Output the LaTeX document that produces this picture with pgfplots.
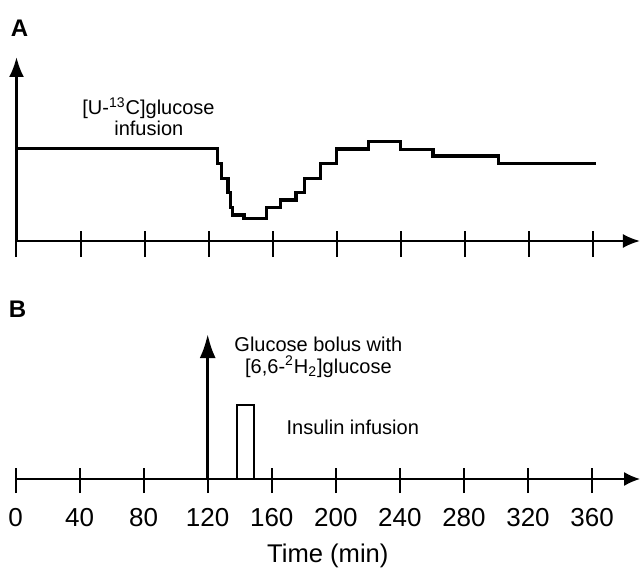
\documentclass[border=0pt]{standalone}
\usepackage{fontspec}
\setmainfont{Liberation Sans}
\usepackage{pgfplots}
\pgfplotsset{compat=1.18}
\usetikzlibrary{arrows.meta}

\begin{document}
\begin{tikzpicture}
\path[use as bounding box] (0,0) rectangle (320pt,-285.5pt);

% Panel A
\begin{axis}[
  at={(8.25pt,-120.5pt)}, anchor=south west,
  scale only axis, width=311.7pt, height=92pt,
  xmin=0, xmax=389.3, ymin=0, ymax=184,
  axis lines=left,
  x axis line style={line width=1pt, -{Latex[length=8.5pt,width=7pt]}},
  y axis line style={line width=1.4pt, -{Latex[length=10pt,width=7.5pt]}},
  xtick={0,40,...,360}, xticklabels={},
  ytick=\empty,
  xtick align=center, major tick length=13pt,
  tick style={black, line width=1pt},
  xtick style={yshift=-1.5pt},
  clip=false,
]
\addplot[const plot, line width=1.65pt, black] coordinates {
 (0,92.5) (125.5,77.7) (128,62.7) (132,48.7) (133.5,33.3) (135,26)
 (142,22.7) (156,33.7) (165,41) (174.5,48.7) (180,62.7) (190,77.7)
 (200,92) (220,99.3) (240,91.7) (260,85) (301,77.7) (362,77.7)};
\end{axis}

% Panel B
\begin{axis}[
  at={(7.75pt,-239.5pt)}, anchor=south west,
  scale only axis, width=312.3pt, height=75pt,
  xmin=0, xmax=390, ymin=0, ymax=150,
  axis x line=bottom, axis y line=none,
  x axis line style={line width=1pt, -{Latex[length=8pt,width=7pt]}},
  xtick={0,40,...,360}, ytick=\empty,
  xtick align=center, major tick length=12.5pt,
  tick style={black, line width=1pt},
  xtick style={yshift=-0.75pt},
  /pgf/number format/assume math mode=true,
  xticklabel style={font=\fontsize{13}{15}\selectfont, yshift=-5pt},
  xlabel={Time (min)},
  xlabel style={font=\fontsize{12.8}{15}\selectfont, yshift=-1.5pt},
  clip=false,
]
\addplot[line width=1.5pt, black, -{Latex[length=12pt,width=8pt]}] coordinates {(120,0) (120,145)};
\addplot[line width=1pt, black] coordinates {(138,0) (138,74) (149,74) (149,0)};
\end{axis}

% Panel labels and annotations
\node[anchor=base, font=\fontsize{12}{14}\selectfont\bfseries] at (9.75pt,-18.35pt) {A};
\node[anchor=base, font=\fontsize{12}{14}\selectfont\bfseries] at (8.75pt,-158.5pt) {B};

\node[anchor=base, font=\fontsize{10}{12}\selectfont] at (74.25pt,-57.5pt) {[U-\textsuperscript{13}C]glucose};
\node[anchor=base, font=\fontsize{10}{12}\selectfont] at (74.4pt,-68pt) {infusion};

\node[anchor=base, font=\fontsize{10}{12}\selectfont] at (159.2pt,-175.5pt) {Glucose bolus with};
\node[anchor=base, font=\fontsize{10}{12}\selectfont] at (159.2pt,-186.5pt) {[6,6-\textsuperscript{2}H\textsubscript{2}]glucose};
\node[anchor=base, font=\fontsize{10}{12}\selectfont] at (176.4pt,-217.2pt) {Insulin infusion};
\end{tikzpicture}
\end{document}
